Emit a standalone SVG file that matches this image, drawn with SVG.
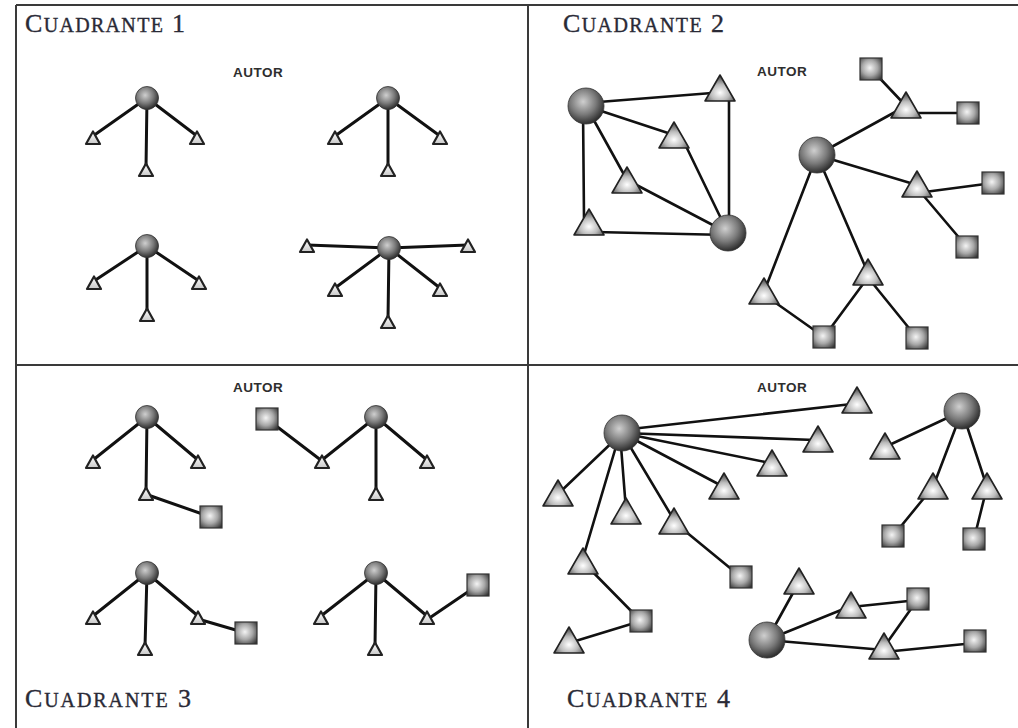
<svg xmlns="http://www.w3.org/2000/svg" xmlns:xlink="http://www.w3.org/1999/xlink" width="1018" height="728" viewBox="0 0 1018 728">
<style>
.frame{stroke:#3a3a3a;stroke-width:2;fill:none}
.title{font-family:"Liberation Serif","DejaVu Serif",serif;font-size:20px;fill:#2a2a36;stroke:#2a2a36;stroke-width:0.35}
.big{font-size:26px}
.autor{font-family:"Liberation Sans","DejaVu Sans",sans-serif;font-weight:bold;font-size:13.5px;fill:#2e2e2e;letter-spacing:0.5px}
.e{stroke:#111;stroke-width:3;stroke-linecap:round;fill:none}
.e2{stroke:#111;stroke-width:2.6;stroke-linecap:round;fill:none}
.ball{fill:url(#gBall);stroke:#333;stroke-width:0.8}
.tri{fill:url(#gTri);stroke:#222;stroke-width:1.6;stroke-linejoin:round}
.trs{fill:url(#gTs);stroke:#222;stroke-width:2.2;stroke-linejoin:round}
.sq{fill:url(#gSq);stroke:#333;stroke-width:1.2}
</style>
<defs>
<radialGradient id="gBall" cx="0.42" cy="0.38" r="0.65"><stop offset="0" stop-color="#cfcfcf"/><stop offset="0.55" stop-color="#7a7a7a"/><stop offset="1" stop-color="#262626"/></radialGradient>
<radialGradient id="gTri" cx="0.5" cy="0.68" r="0.62"><stop offset="0" stop-color="#ffffff"/><stop offset="0.5" stop-color="#bcbcbc"/><stop offset="1" stop-color="#4a4a4a"/></radialGradient>
<linearGradient id="gTs" x1="0" y1="0" x2="0" y2="1"><stop offset="0" stop-color="#ffffff"/><stop offset="1" stop-color="#c8c8c8"/></linearGradient>
<radialGradient id="gSq" cx="0.45" cy="0.45" r="0.7"><stop offset="0" stop-color="#f4f4f4"/><stop offset="0.5" stop-color="#a8a8a8"/><stop offset="1" stop-color="#333"/></radialGradient>
<polygon id="tb" class="tri" points="0,-14 15,12 -15,12"/>
<polygon id="ts" class="trs" points="0,-6.5 7,6 -7,6"/>
<rect id="sq" class="sq" x="-11" y="-11" width="22" height="22"/>
<circle id="bb" class="ball" r="18"/>
<circle id="bs" class="ball" r="11.5"/>
</defs>
<rect width="1018" height="728" fill="#fff"/>
<g id="frame">
<line class="frame" x1="16" y1="5" x2="1018" y2="5"/>
<line class="frame" x1="16" y1="5" x2="16" y2="728"/>
<line class="frame" x1="528" y1="5" x2="528" y2="728"/>
<line class="frame" x1="16" y1="365" x2="1018" y2="365"/>
</g>
<g id="labels">
<text class="title" x="25" y="32" textLength="160" lengthAdjust="spacing"><tspan class="big">C</tspan>UADRANTE<tspan class="big"> 1</tspan></text>
<text class="title" x="563" y="32" textLength="161" lengthAdjust="spacing"><tspan class="big">C</tspan>UADRANTE<tspan class="big"> 2</tspan></text>
<text class="title" x="25" y="707" textLength="166" lengthAdjust="spacing"><tspan class="big">C</tspan>UADRANTE<tspan class="big"> 3</tspan></text>
<text class="title" x="567" y="707" textLength="163" lengthAdjust="spacing"><tspan class="big">C</tspan>UADRANTE<tspan class="big"> 4</tspan></text>
<text class="autor" x="233" y="77">AUTOR</text>
<text class="autor" x="757" y="76">AUTOR</text>
<text class="autor" x="233" y="392">AUTOR</text>
<text class="autor" x="757" y="392">AUTOR</text>
</g>
<g id="connectors">
<g class="e">
<line x1="147" y1="98" x2="93" y2="136"/><line x1="147" y1="98" x2="197" y2="136"/><line x1="147" y1="98" x2="146" y2="168"/>
<line x1="388" y1="98" x2="335" y2="136"/><line x1="388" y1="98" x2="440" y2="136"/><line x1="388" y1="98" x2="388" y2="168"/>
<line x1="147" y1="246" x2="94" y2="281"/><line x1="147" y1="246" x2="199" y2="281"/><line x1="147" y1="246" x2="147" y2="313"/>
<line x1="389" y1="248" x2="307" y2="245"/><line x1="389" y1="248" x2="468" y2="245"/><line x1="389" y1="248" x2="335" y2="288"/><line x1="389" y1="248" x2="440" y2="288"/><line x1="389" y1="248" x2="388" y2="320"/>
</g>
<g class="e">
<line x1="147" y1="417" x2="93" y2="460"/><line x1="147" y1="417" x2="198" y2="460"/><line x1="147" y1="417" x2="146" y2="492"/><line x1="148" y1="495" x2="211" y2="517"/>
<line x1="376" y1="417" x2="322" y2="460"/><line x1="376" y1="417" x2="427" y2="460"/><line x1="376" y1="417" x2="376" y2="492"/><line x1="267" y1="419" x2="322" y2="461"/>
<line x1="147" y1="573" x2="93" y2="616"/><line x1="147" y1="573" x2="198" y2="616"/><line x1="147" y1="573" x2="145" y2="647"/><line x1="198" y1="619" x2="246" y2="633"/>
<line x1="376" y1="573" x2="321" y2="616"/><line x1="376" y1="573" x2="427" y2="616"/><line x1="376" y1="573" x2="375" y2="647"/><line x1="428" y1="619" x2="478" y2="585"/>
</g>
<g class="e2">
<line x1="586" y1="103" x2="712" y2="93"/>
<line x1="586" y1="106" x2="674" y2="135"/>
<line x1="586" y1="106" x2="627" y2="180"/>
<line x1="583" y1="108" x2="584" y2="218"/>
<line x1="595" y1="232" x2="728" y2="235"/>
<line x1="627" y1="180" x2="728" y2="233"/>
<line x1="683" y1="140" x2="728" y2="233"/>
<line x1="729" y1="95" x2="729" y2="228"/>
<line x1="817" y1="155" x2="906" y2="106"/>
<line x1="871" y1="69" x2="906" y2="106"/>
<line x1="906" y1="113" x2="968" y2="113"/>
<line x1="817" y1="155" x2="917" y2="185"/>
<line x1="917" y1="193" x2="993" y2="183"/>
<line x1="917" y1="188" x2="967" y2="247"/>
<line x1="817" y1="155" x2="764" y2="292"/>
<line x1="817" y1="155" x2="868" y2="273"/>
<line x1="766" y1="296" x2="824" y2="337"/>
<line x1="866" y1="280" x2="824" y2="337"/>
<line x1="870" y1="280" x2="917" y2="338"/>
</g>
<g class="e2">
<line x1="622" y1="430" x2="852" y2="404"/>
<line x1="622" y1="433" x2="815" y2="440"/>
<line x1="622" y1="433" x2="770" y2="463"/>
<line x1="622" y1="433" x2="722" y2="486"/>
<line x1="622" y1="433" x2="558" y2="494"/>
<line x1="620" y1="433" x2="626" y2="510"/>
<line x1="622" y1="433" x2="674" y2="520"/>
<line x1="620" y1="433" x2="583" y2="558"/>
<line x1="674" y1="522" x2="741" y2="577"/>
<line x1="583" y1="562" x2="641" y2="621"/>
<line x1="641" y1="621" x2="569" y2="643"/>
<line x1="962" y1="411" x2="885" y2="447"/>
<line x1="962" y1="411" x2="933" y2="487"/>
<line x1="962" y1="411" x2="987" y2="487"/>
<line x1="933" y1="487" x2="893" y2="536"/>
<line x1="987" y1="487" x2="974" y2="539"/>
<line x1="767" y1="640" x2="799" y2="582"/>
<line x1="767" y1="640" x2="851" y2="606"/>
<line x1="851" y1="607" x2="918" y2="600"/>
<line x1="767" y1="640" x2="884" y2="650"/>
<line x1="884" y1="647" x2="918" y2="599"/>
<line x1="884" y1="652" x2="975" y2="643"/>
</g>
</g>
<g id="q1a-hub"><use href="#bs" x="147" y="98"/></g>
<g id="q1a-t1"><use href="#ts" x="93" y="138"/></g>
<g id="q1a-t2"><use href="#ts" x="197" y="138"/></g>
<g id="q1a-t3"><use href="#ts" x="146" y="170"/></g>
<g id="q1b-hub"><use href="#bs" x="388" y="98"/></g>
<g id="q1b-t1"><use href="#ts" x="335" y="138"/></g>
<g id="q1b-t2"><use href="#ts" x="440" y="138"/></g>
<g id="q1b-t3"><use href="#ts" x="388" y="170"/></g>
<g id="q1c-hub"><use href="#bs" x="147" y="246"/></g>
<g id="q1c-t1"><use href="#ts" x="94" y="283"/></g>
<g id="q1c-t2"><use href="#ts" x="199" y="283"/></g>
<g id="q1c-t3"><use href="#ts" x="147" y="315"/></g>
<g id="q1d-hub"><use href="#bs" x="389" y="248"/></g>
<g id="q1d-t1"><use href="#ts" x="307" y="246"/></g>
<g id="q1d-t2"><use href="#ts" x="468" y="246"/></g>
<g id="q1d-t3"><use href="#ts" x="335" y="290"/></g>
<g id="q1d-t4"><use href="#ts" x="440" y="290"/></g>
<g id="q1d-t5"><use href="#ts" x="388" y="322"/></g>
<g id="q3a-hub"><use href="#bs" x="147" y="417"/></g>
<g id="q3a-t1"><use href="#ts" x="93" y="462"/></g>
<g id="q3a-t2"><use href="#ts" x="198" y="462"/></g>
<g id="q3a-t3"><use href="#ts" x="146" y="494"/></g>
<g id="q3a-s1"><use href="#sq" x="211" y="517"/></g>
<g id="q3b-hub"><use href="#bs" x="376" y="417"/></g>
<g id="q3b-t1"><use href="#ts" x="322" y="462"/></g>
<g id="q3b-t2"><use href="#ts" x="427" y="462"/></g>
<g id="q3b-t3"><use href="#ts" x="376" y="494"/></g>
<g id="q3b-s1"><use href="#sq" x="267" y="419"/></g>
<g id="q3c-hub"><use href="#bs" x="147" y="573"/></g>
<g id="q3c-t1"><use href="#ts" x="93" y="618"/></g>
<g id="q3c-t2"><use href="#ts" x="198" y="618"/></g>
<g id="q3c-t3"><use href="#ts" x="145" y="649"/></g>
<g id="q3c-s1"><use href="#sq" x="246" y="633"/></g>
<g id="q3d-hub"><use href="#bs" x="376" y="573"/></g>
<g id="q3d-t1"><use href="#ts" x="321" y="618"/></g>
<g id="q3d-t2"><use href="#ts" x="427" y="618"/></g>
<g id="q3d-t3"><use href="#ts" x="375" y="649"/></g>
<g id="q3d-s1"><use href="#sq" x="478" y="585"/></g>
<g id="q2-hubA"><use href="#bb" x="586" y="106"/></g>
<g id="q2-hubB"><use href="#bb" x="728" y="233"/></g>
<g id="q2-t1"><use href="#tb" x="720" y="89"/></g>
<g id="q2-t2"><use href="#tb" x="674" y="136"/></g>
<g id="q2-t3"><use href="#tb" x="627" y="181"/></g>
<g id="q2-t4"><use href="#tb" x="589" y="223"/></g>
<g id="q2-hubC"><use href="#bb" x="817" y="155"/></g>
<g id="q2-s1"><use href="#sq" x="871" y="69"/></g>
<g id="q2-t5"><use href="#tb" x="906" y="106"/></g>
<g id="q2-s2"><use href="#sq" x="968" y="113"/></g>
<g id="q2-t6"><use href="#tb" x="917" y="185"/></g>
<g id="q2-s3"><use href="#sq" x="993" y="183"/></g>
<g id="q2-s4"><use href="#sq" x="967" y="247"/></g>
<g id="q2-t7"><use href="#tb" x="764" y="292"/></g>
<g id="q2-t8"><use href="#tb" x="868" y="273"/></g>
<g id="q2-s5"><use href="#sq" x="824" y="337"/></g>
<g id="q2-s6"><use href="#sq" x="917" y="338"/></g>
<g id="q4-hubA"><use href="#bb" x="622" y="433"/></g>
<g id="q4-t1"><use href="#tb" x="857" y="401"/></g>
<g id="q4-t2"><use href="#tb" x="818" y="440"/></g>
<g id="q4-t3"><use href="#tb" x="772" y="464"/></g>
<g id="q4-t4"><use href="#tb" x="724" y="487"/></g>
<g id="q4-t5"><use href="#tb" x="558" y="494"/></g>
<g id="q4-t6"><use href="#tb" x="626" y="512"/></g>
<g id="q4-t7"><use href="#tb" x="674" y="522"/></g>
<g id="q4-t8"><use href="#tb" x="583" y="562"/></g>
<g id="q4-s1"><use href="#sq" x="741" y="577"/></g>
<g id="q4-s2"><use href="#sq" x="641" y="621"/></g>
<g id="q4-t9"><use href="#tb" x="569" y="641"/></g>
<g id="q4-hubB"><use href="#bb" x="962" y="411"/></g>
<g id="q4-t10"><use href="#tb" x="885" y="447"/></g>
<g id="q4-t11"><use href="#tb" x="933" y="487"/></g>
<g id="q4-t12"><use href="#tb" x="987" y="487"/></g>
<g id="q4-s3"><use href="#sq" x="893" y="536"/></g>
<g id="q4-s4"><use href="#sq" x="974" y="539"/></g>
<g id="q4-hubC"><use href="#bb" x="767" y="640"/></g>
<g id="q4-t13"><use href="#tb" x="799" y="582"/></g>
<g id="q4-t14"><use href="#tb" x="851" y="606"/></g>
<g id="q4-s5"><use href="#sq" x="918" y="599"/></g>
<g id="q4-t15"><use href="#tb" x="884" y="647"/></g>
<g id="q4-s6"><use href="#sq" x="975" y="641"/></g>
</svg>
